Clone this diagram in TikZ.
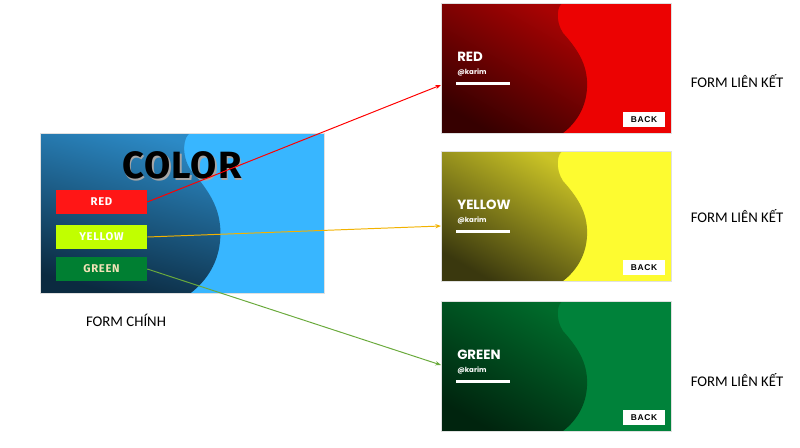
\documentclass[tikz,border=0pt]{standalone}
\usepackage{fontspec}
\setmainfont{Carlito}
\newfontfamily\btnfont[LetterSpace=6]{Fira Sans}
\newfontfamily\titlefont[LetterSpace=3]{Fira Sans}
\newfontfamily\cardfont{Poppins}
\newfontfamily\backfont[LetterSpace=8]{Liberation Sans}
\usetikzlibrary{arrows.meta, positioning, calc}
\definecolor{mainlight}{HTML}{38B6FF}
\definecolor{maintop}{HTML}{2C8AC6}
\definecolor{mainbot}{HTML}{0B2A40}
\definecolor{btnred}{HTML}{FF1616}
\definecolor{btnyellow}{HTML}{C1FF00}
\definecolor{btngreen}{HTML}{007F32}
\definecolor{greencream}{HTML}{F3E3B8}
\definecolor{redlight}{HTML}{EC0202}
\definecolor{redtop}{HTML}{A80303}
\definecolor{redbot}{HTML}{360000}
\definecolor{yellowlight}{HTML}{FDFB30}
\definecolor{yellowtop}{HTML}{CBC426}
\definecolor{yellowbot}{HTML}{3A380E}
\definecolor{greenlight}{HTML}{00823A}
\definecolor{greentop}{HTML}{006B2B}
\definecolor{greenbot}{HTML}{00240E}
\definecolor{linkred}{HTML}{FF0000}
\definecolor{linkyellow}{HTML}{F2B200}
\definecolor{linkgreen}{HTML}{6AAA3C}

% wave edge of the dark half, card units (230 x 130)
\newcommand{\waveside}[1]{\shade[#1] (0,0) -- (122,0) .. controls (116,2) and (114,18) .. (122,30)
  .. controls (140,50) and (147,65) .. (146,85) .. controls (145,105) and (135,120) .. (122,130) -- (0,130) -- cycle;}

\begin{document}
\begin{tikzpicture}[
    x=0.025cm, y=-0.025cm,
    btn/.style={minimum width=2.275cm, minimum height=0.6cm, inner sep=0, font=\btnfont\bfseries\fontsize{8pt}{9pt}\selectfont},
    cardtitle/.style={anchor=west, inner sep=0, text=white, font=\cardfont\bfseries\fontsize{9.5pt}{11pt}\selectfont},
    cardsub/.style={anchor=west, inner sep=0, text=white, font=\cardfont\bfseries\fontsize{5pt}{6pt}\selectfont},
    backbtn/.style={fill=white, minimum width=1.05cm, minimum height=0.375cm, inner sep=0, font=\backfont\bfseries\fontsize{6pt}{7pt}\selectfont},
    formlabel/.style={font=\fontsize{10.5pt}{12pt}\selectfont},
    link/.style={-{Stealth[length=4pt, width=3pt]}, line width=0.7pt}
]
    \useasboundingbox (0,0) rectangle (800,447);

    % --- MAIN FORM ---
    \begin{scope}[shift={(40,133)}, xscale=1.235, yscale=1.231]
        \fill[mainlight] (0,0) rectangle (230,130);
        \waveside{top color=maintop, bottom color=mainbot, shading angle=-15}
    \end{scope}
    \node[draw=black!12, minimum width=7.1cm, minimum height=4cm, inner sep=0, anchor=north west] (mainform) at (40,133) {};

    \node[text=black!35, font=\titlefont\bfseries\fontsize{27pt}{30pt}\selectfont] (titleshadow) at (183.5,167) {COLOR};
    \node[font=\titlefont\bfseries\fontsize{27pt}{30pt}\selectfont] (title) at (182,165) {COLOR};

    \node[btn, fill=btnred, text=white] (btnred) at (101.5,202) {RED};
    \node[btn, fill=btnyellow, text=white] (btnyellow) at (101.5,237) {YELLOW};
    \node[btn, fill=btngreen, text=greencream] (btngreen) at (101.5,269) {GREEN};

    \node[formlabel] (mainlabel) at (126,320) {FORM CHÍNH};

    % --- LINKED FORMS ---
    \foreach \y/\lit/\top/\bot/\ttl/\nm/\iny/\ly in {
        3/redlight/redtop/redbot/RED/redform/82/81,
        151/yellowlight/yellowtop/yellowbot/YELLOW/yellowform/75/216,
        301/greenlight/greentop/greenbot/GREEN/greenform/64/380} {
        \begin{scope}[shift={(441,\y)}]
            \fill[\lit] (0,0) rectangle (230,130);
            \waveside{top color=\top, bottom color=\bot, shading angle=-30}
            \node[cardtitle] (\nm-title) at (16,54) {\ttl};
            \node[cardsub] (\nm-user) at (16,69.5) {@karim};
            \fill[white] (15,79) rectangle (69,82);
            \node[backbtn] (\nm-back) at (203,116.5) {BACK};
            \node[draw=black!12, minimum width=5.75cm, minimum height=3.25cm, inner sep=0, anchor=north west] (\nm) at (0,0) {};
            \coordinate (\nm-in) at (0,\iny);
        \end{scope}
        \node[formlabel] (\nm-label) at (737,\ly) {FORM LIÊN KẾT};
    }

    % --- LINKS ---
    \draw[link, linkred] (btnred.east) -- (redform-in);
    \draw[link, linkyellow] (btnyellow.east) -- (yellowform-in);
    \draw[link, linkgreen] (btngreen.east) -- (greenform-in);

\end{tikzpicture}
\end{document}
